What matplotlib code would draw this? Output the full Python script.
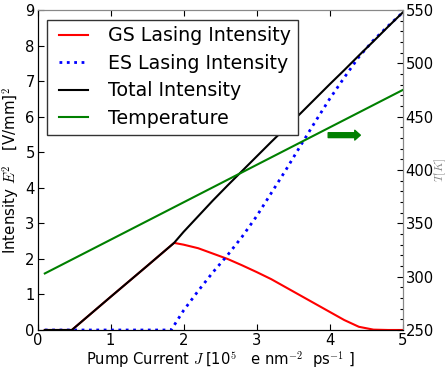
import numpy as np
import matplotlib
matplotlib.use('Agg')
import matplotlib.pyplot as plt
from matplotlib.ticker import MultipleLocator
from matplotlib.legend_handler import HandlerLine2D

plt.rcParams['mathtext.fontset'] = 'cm'
plt.rcParams['font.family'] = 'DejaVu Sans'

# Data
J = [0.1, 0.47, 1.0, 1.5, 1.87, 2.0, 2.2, 2.4, 2.6, 2.8, 3.0, 3.2, 3.4,
     3.6, 3.8, 4.0, 4.2, 4.4, 4.6, 4.8, 5.0]
gs = [0.0, 0.0, 0.93, 1.80, 2.45, 2.40, 2.30, 2.15, 2.0, 1.82, 1.63, 1.43,
      1.20, 0.97, 0.74, 0.51, 0.28, 0.09, 0.01, 0.0, 0.0]
es_J = [0.1, 1.83, 2.0, 2.2, 2.4, 2.6, 2.8, 3.0, 3.2, 3.4, 3.6, 3.8, 4.0,
        4.2, 4.4, 4.6, 4.8, 5.0]
es = [0.0, 0.0, 0.55, 1.10, 1.62, 2.10, 2.62, 3.20, 3.85, 4.50, 5.18, 5.85,
      6.50, 7.10, 7.68, 8.15, 8.55, 8.93]
total = [0.0, 0.0, 0.93, 1.80, 2.45, 2.76, 3.20, 3.64, 4.06, 4.47, 4.88,
         5.29, 5.69, 6.09, 6.50, 6.91, 7.31, 7.72, 8.12, 8.53, 8.93]
temp_J = [0.1, 5.0]
temp = [303.0, 475.0]

fig = plt.figure(figsize=(4.47, 3.69), dpi=100)
ax = fig.add_axes([0.0839, 0.1057, 0.8170, 0.8672])
ax2 = ax.twinx()

l1, = ax.plot(J, gs, color='red', lw=1.5, label='GS Lasing Intensity')
l2, = ax.plot(es_J, es, color='blue', lw=2.0, ls=':', label='ES Lasing Intensity')
l3, = ax.plot(J, total, color='black', lw=1.5, label='Total Intensity')
l4, = ax2.plot(temp_J, temp, color='green', lw=1.5, label='Temperature')

ax.set_xlim(0, 5)
ax.set_ylim(0, 9)
ax2.set_ylim(250, 550)
ax2.yaxis.set_minor_locator(MultipleLocator(10))

ax.set_xticks([0, 1, 2, 3, 4, 5])
ax.set_yticks(range(0, 10))
ax2.set_yticks(range(250, 551, 50))

ax.tick_params(axis='both', direction='in', length=4, width=0.8, pad=2,
               labelsize=10.6, top=True, right=False)
ax2.tick_params(axis='y', which='major', direction='in', length=4, width=0.8,
                pad=2, labelsize=10.6)
ax2.tick_params(axis='y', which='minor', direction='in', length=2, width=0.8)

for a in (ax, ax2):
    a.spines['top'].set_color('#888888')
    a.spines['right'].set_color('#888888')
    a.spines['left'].set_color('black')
    a.spines['bottom'].set_color('black')

ax.set_xlabel(r'Pump Current $J\;$[10$^5$   e nm$^{-2}$  ps$^{-1}$ ]',
              fontsize=10.6, labelpad=1)
ax.set_ylabel(r'Intensity $E^2$   [V/mm]$^2$', fontsize=10.8)
ax.yaxis.set_label_coords(-0.042, 0.5)
ax2.set_ylabel(r'$T[K]$', fontsize=8.5, color='#888888')
ax2.yaxis.set_label_coords(1.081, 0.5)

ax.annotate('', xy=(4.42, 5.48), xytext=(3.98, 5.48),
            arrowprops=dict(facecolor='green', edgecolor='green', width=3.5,
                            headwidth=7, headlength=4, shrink=0))

hm = {h: HandlerLine2D(xpad=0.27) for h in (l1, l2, l3, l4)}
leg = ax2.legend(handles=[l1, l2, l3, l4], loc='upper left', fontsize=13.7,
                 fancybox=False, framealpha=1, edgecolor='#333333',
                 handlelength=1.8, handletextpad=1.05, labelspacing=0.45,
                 borderpad=0.35, borderaxespad=0.5, handler_map=hm)
leg.get_frame().set_linewidth(1.0)

fig.savefig('out.png', dpi=100)
